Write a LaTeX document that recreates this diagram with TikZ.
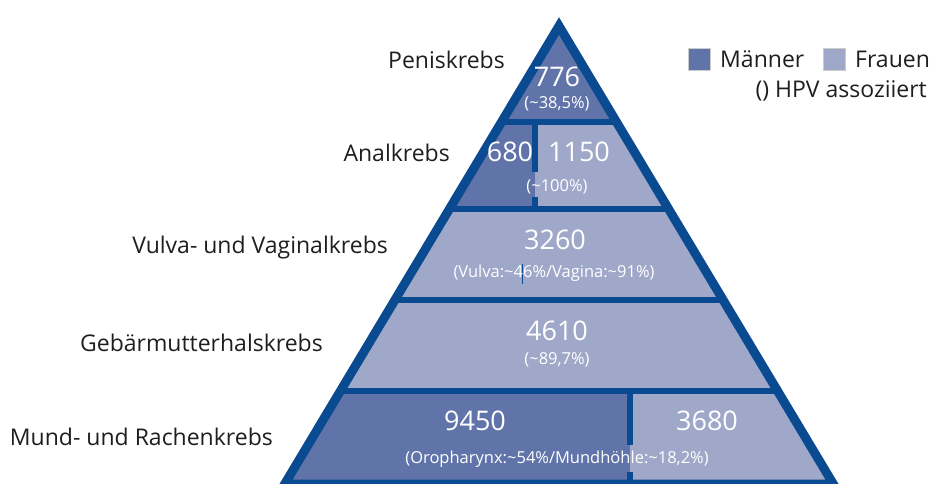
\documentclass[tikz,border=0pt]{standalone}
\usepackage{fontspec}
\setmainfont{Open Sans}
\definecolor{bord}{RGB}{10,74,145}
\definecolor{maen}{RGB}{96,116,170}
\definecolor{frau}{RGB}{160,168,201}
\definecolor{txt}{RGB}{30,30,30}
\begin{document}
\begin{tikzpicture}[x=1pt,y=-1pt,
  lbl/.style={anchor=east, text=txt, font=\fontsize{23}{26}\selectfont, inner sep=0pt},
  num/.style={text=white, font=\fontsize{27}{30}\selectfont, inner sep=0pt},
  pct/.style={text=white, font=\fontsize{16.5}{19}\selectfont, inner sep=0pt},
  sepline/.style={draw=bord, line width=5.5pt},
  legbox/.style={minimum size=22pt, inner sep=0pt, draw=white!80!black, line width=0.4pt}]
\useasboundingbox (0,0) rectangle (930,483);
\coordinate (apex) at (559,26);
\coordinate (bl) at (284.7,484);
\coordinate (br) at (833.3,484);
\begin{scope}
  \clip (apex) -- (bl) -- (br) -- cycle;
  \fill[maen] (250,0) rectangle (900,122);
  \fill[maen] (250,122) rectangle (535,209);
  \fill[frau] (535,122) rectangle (900,209);
  \fill[frau] (250,209) rectangle (900,391);
  \fill[maen] (250,391) rectangle (630,490);
  \fill[frau] (630,391) rectangle (900,490);
  \draw[sepline] (250,122) -- (900,122);
  \draw[sepline] (250,209) -- (900,209);
  \draw[sepline] (250,300) -- (900,300);
  \draw[sepline] (250,391) -- (900,391);
  \draw[sepline] (535,122) -- (535,172);
  \draw[sepline] (535,197) -- (535,209);
  \draw[sepline] (630,391) -- (630,445);
  \draw[sepline] (630,472) -- (630,490);
  \draw[bord, line width=0.8pt] (522,264) -- (522,284);
\end{scope}
\draw[bord, line width=9pt, line join=miter] (apex) -- (bl) -- (br) -- cycle;
% labels
\node[lbl] (lpenis) at (505,60) {Peniskrebs};
\node[lbl] (lanal) at (450,153) {Analkrebs};
\node[lbl] (lvulva) at (388,248) {Vulva- und Vaginalkrebs};
\node[lbl] (lgeb) at (323,343) {Gebärmutterhalskrebs};
\node[lbl] (lmund) at (273,437) {Mund- und Rachenkrebs};
% numbers
\node[num] (n776) at (557,77) {776};
\node[pct] (p776) at (557,104) {(\textasciitilde38,5\%)};
\node[num] (n680) at (510,152) {680};
\node[num] (n1150) at (579,152) {1150};
\node[pct] (p1150) at (557,187) {(\textasciitilde100\%)};
\node[num] (n3260) at (555,240) {3260};
\node[pct] (p3260) at (554,273) {(Vulva:\textasciitilde46\%/Vagina:\textasciitilde91\%)};
\node[num] (n4610) at (557,331) {4610};
\node[pct] (p4610) at (557,360) {(\textasciitilde89,7\%)};
\node[num] (n9450) at (475,421) {9450};
\node[num] (n3680) at (707,421) {3680};
\node[pct] (p9450) at (557,459) {(Oropharynx:\textasciitilde54\%/Mundhöhle:\textasciitilde18,2\%)};
% legend
\node[legbox, fill=maen] (lgm) at (699,59) {};
\node[lbl, anchor=west] (lgmt) at (720,59) {Männer};
\node[legbox, fill=frau] (lgf) at (834,59) {};
\node[lbl, anchor=west] (lgft) at (855,59) {Frauen};
\node[lbl] (lghpv) at (927,91) {() HPV assoziiert};
\end{tikzpicture}
\end{document}
